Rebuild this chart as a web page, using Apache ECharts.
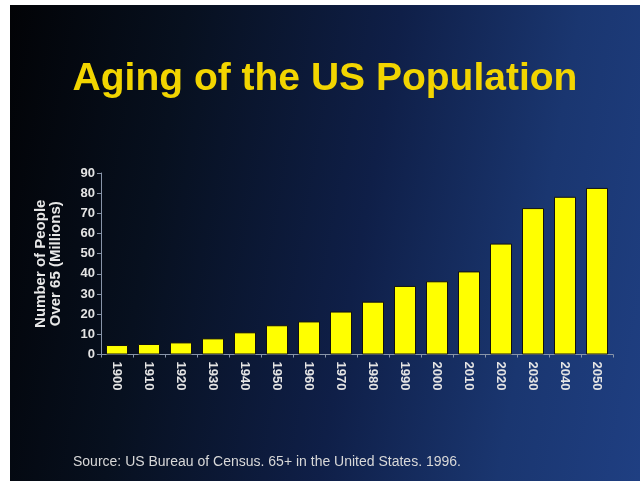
<!DOCTYPE html>
<html>
<head>
<meta charset="utf-8">
<script src="https://cdn.jsdelivr.net/npm/echarts@6/dist/echarts.min.js"></script>
<style>
html,body{margin:0;padding:0;background:#fff;width:640px;height:481px;overflow:hidden;}
#c{position:absolute;left:10px;top:5px;width:630px;height:476px;
background:linear-gradient(100deg,#020306 0%,#07101f 25%,#0f1f48 55%,#1a3670 80%,#1f3f82 100%);}
</style>
</head>
<body>
<div id="c"></div>
<script>
const years = ['1900','1910','1920','1930','1940','1950','1960','1970','1980','1990','2000','2010','2020','2030','2040','2050'];
const over65 = [4.7, 5.2, 6.0, 8.0, 11.0, 14.5, 16.4, 21.3, 26.2, 34.0, 36.3, 41.2, 55.0, 72.6, 78.2, 82.6];
const yTicks = [0, 10, 20, 30, 40, 50, 60, 70, 80, 90];
const titleText = 'Aging of the US Population';
const yAxisTitle = 'Number of People\nOver 65 (Millions)';
const sourceText = 'Source: US Bureau of Census. 65+ in the United States. 1996.';

const FONT = '"Liberation Sans", Arial, sans-serif';
const chart = echarts.init(document.getElementById('c'));
chart.setOption({
  backgroundColor: 'transparent',
  animation: false,
  title: {
    text: titleText,
    left: 'center',
    top: 50,
    textStyle: { color: '#f2d500', fontFamily: FONT, fontWeight: 'bold', fontSize: 39 }
  },
  graphic: [{
    type: 'text',
    left: 63,
    top: 450,
    style: { text: sourceText, fill: '#d8d8d8', font: '14px "Liberation Sans", Arial, sans-serif' }
  }],
  grid: { left: 91, right: 27, top: 168, bottom: 126.5, containLabel: false },
  xAxis: {
    type: 'category',
    data: years,
    axisLine: { lineStyle: { color: '#8894a8', width: 1 } },
    axisTick: { show: true, length: 3, lineStyle: { color: '#8894a8' } },
    axisLabel: { rotate: -90, color: '#e4e4e4', fontFamily: FONT, fontWeight: 'bold', fontSize: 13, margin: 7 }
  },
  yAxis: {
    type: 'value',
    min: yTicks[0],
    max: yTicks[yTicks.length - 1],
    interval: 10,
    name: yAxisTitle,
    nameLocation: 'middle',
    nameRotate: 90,
    nameGap: 38,
    nameTextStyle: { color: '#e8e8e8', fontFamily: FONT, fontWeight: 'bold', fontSize: 15, lineHeight: 15 },
    axisLine: { show: true, lineStyle: { color: '#8894a8', width: 1 } },
    axisTick: { show: true, length: 4, lineStyle: { color: '#8894a8' } },
    splitLine: { show: false },
    axisLabel: { color: '#e4e4e4', fontFamily: FONT, fontWeight: 'bold', fontSize: 13, margin: 6 }
  },
  series: [{
    type: 'bar',
    data: over65,
    barWidth: 22,
    itemStyle: { color: '#ffff00', borderColor: '#111111', borderWidth: 1 }
  }]
});
</script>
</body>
</html>
